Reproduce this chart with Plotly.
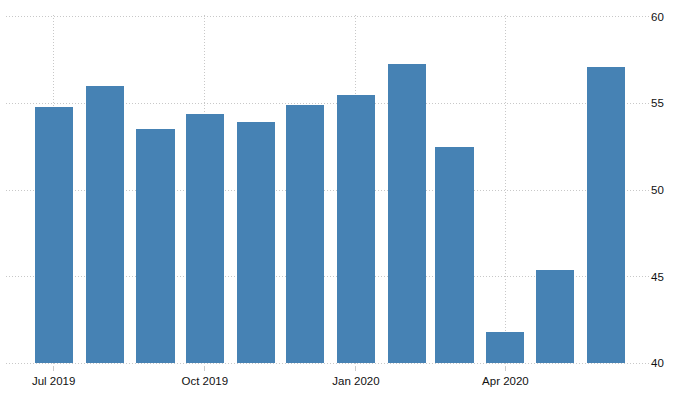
import plotly.graph_objects as go

months = ["2019-07-01", "2019-08-01", "2019-09-01", "2019-10-01", "2019-11-01",
          "2019-12-01", "2020-01-01", "2020-02-01", "2020-03-01", "2020-04-01",
          "2020-05-01", "2020-06-01"]
values = [54.8, 56.0, 53.5, 54.4, 53.9, 54.9, 55.5, 57.3, 52.5, 41.8, 45.4, 57.1]
tick_dates = ["2019-07-01", "2019-10-01", "2020-01-01", "2020-04-01"]
tick_labels = ["Jul 2019", "Oct 2019", "Jan 2020", "Apr 2020"]
y_ticks = [40, 45, 50, 55, 60]
BASE = 40

DAY = 86400000
fig = go.Figure(go.Bar(
    x=months, y=[v - BASE for v in values], base=BASE,
    width=[23.2 * DAY] * len(months),
    marker=dict(color="#4682B4", line=dict(width=0)),
    customdata=values,
    hovertemplate="%{x|%b %Y}: %{customdata}<extra></extra>",
))

fig.update_layout(
    width=676, height=393,
    margin=dict(l=6, r=26, t=15, b=28),
    paper_bgcolor="white", plot_bgcolor="white",
    showlegend=False,
    font=dict(family="Liberation Sans, Arial, sans-serif", size=11.5, color="#111"),
    xaxis=dict(
        type="date",
        range=["2019-06-02", "2020-06-28"],
        tickvals=tick_dates, ticktext=tick_labels,
        showgrid=True, gridcolor="#c8c8c8", griddash="1px,2px", gridwidth=1,
        ticks="outside", ticklen=5, tickcolor="#cccccc", tickwidth=1,
        showline=False, zeroline=False,
    ),
    yaxis=dict(
        side="right",
        range=[39.9, 60.1],
        tickvals=y_ticks,
        showgrid=True, gridcolor="#c8c8c8", griddash="1px,2px", gridwidth=1,
        showline=False, zeroline=False, ticks="",
    ),
    bargap=0,
)

fig.write_html("out.html", config={"displayModeBar": False},
               post_script="document.body.style.margin='0';")
